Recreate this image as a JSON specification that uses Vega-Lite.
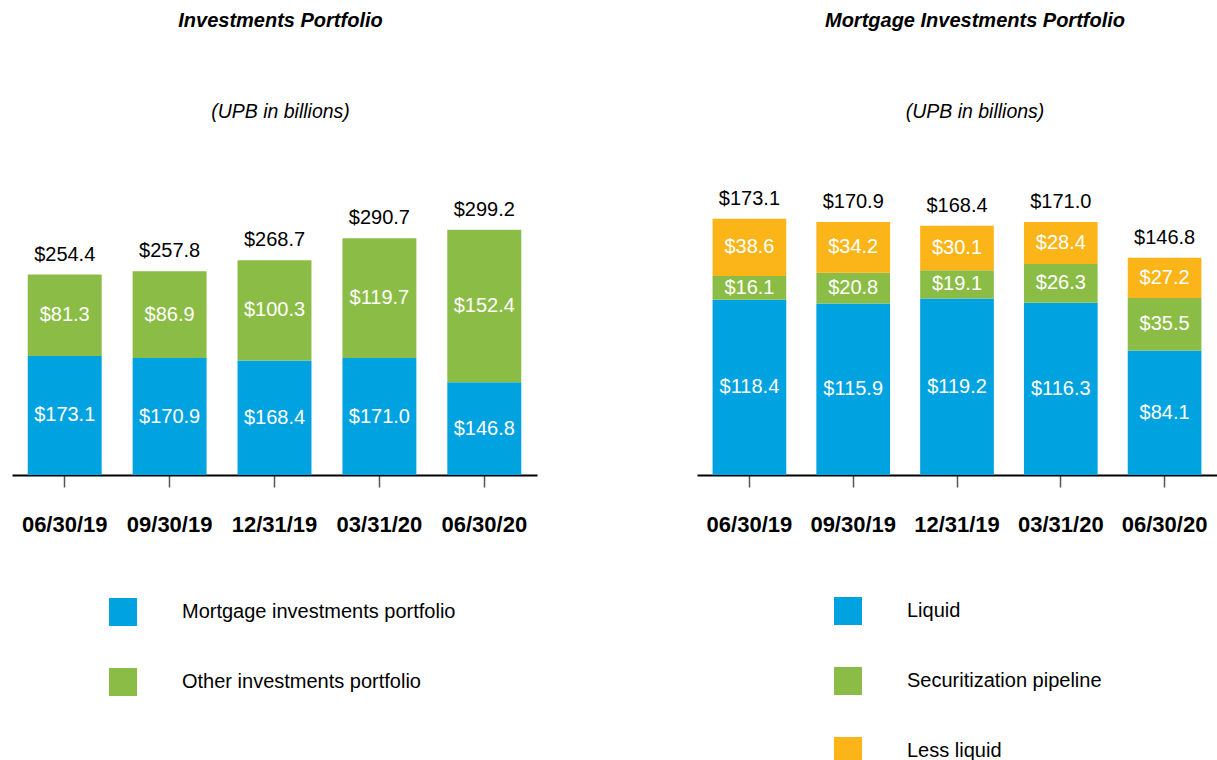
{
  "$schema": "https://vega.github.io/schema/vega-lite/v6.json",
  "padding": {"left": 12, "top": 10, "right": 0, "bottom": 0},
  "autosize": {"type": "pad"},
  "spacing": 160,
  "config": {
    "font": "Liberation Sans",
    "view": {"stroke": null},
    "title": {
      "font": "Liberation Sans", "fontSize": 20, "fontStyle": "italic", "fontWeight": "bold", "color": "#000000",
      "subtitleFont": "Liberation Sans", "subtitleFontSize": 19.5, "subtitleFontStyle": "italic", "subtitleFontWeight": "normal",
      "subtitleColor": "#000000", "subtitlePadding": 72, "offset": 54, "anchor": "middle"
    },
    "axisX": {
      "title": null, "labelAngle": 0, "labelFont": "Liberation Sans", "labelFontSize": 22, "labelFontWeight": "bold",
      "labelColor": "#000000", "labelPadding": 27, "tickSize": 12, "tickColor": "#555555", "tickWidth": 1.5,
      "domainColor": "#000000", "domainWidth": 2.2, "grid": false
    },
    "legend": {
      "title": null, "orient": "none", "direction": "vertical", "symbolType": "square", "symbolSize": 784,
      "symbolStrokeWidth": 0, "symbolOpacity": 1, "labelFont": "Liberation Sans", "labelFontSize": 20,
      "labelColor": "#000000", "labelOffset": 45, "rowPadding": 42, "labelLimit": 500
    },
    "text": {"font": "Liberation Sans", "fontSize": 20}
  },
  "hconcat": [
    {
      "width": 525,
      "height": 300,
      "title": {"text": "Investments Portfolio", "subtitle": "(UPB in billions)", "dx": 6},
      "data": {"values": [
        {"date": "06/30/19", "series": "Mortgage investments portfolio", "rank": 1, "value": 173.1},
        {"date": "06/30/19", "series": "Other investments portfolio", "rank": 2, "value": 81.3},
        {"date": "09/30/19", "series": "Mortgage investments portfolio", "rank": 1, "value": 170.9},
        {"date": "09/30/19", "series": "Other investments portfolio", "rank": 2, "value": 86.9},
        {"date": "12/31/19", "series": "Mortgage investments portfolio", "rank": 1, "value": 168.4},
        {"date": "12/31/19", "series": "Other investments portfolio", "rank": 2, "value": 100.3},
        {"date": "03/31/20", "series": "Mortgage investments portfolio", "rank": 1, "value": 171.0},
        {"date": "03/31/20", "series": "Other investments portfolio", "rank": 2, "value": 119.7},
        {"date": "06/30/20", "series": "Mortgage investments portfolio", "rank": 1, "value": 146.8},
        {"date": "06/30/20", "series": "Other investments portfolio", "rank": 2, "value": 152.4}
      ]},
      "transform": [
        {"stack": "value", "groupby": ["date"], "sort": [{"field": "rank", "order": "ascending"}], "as": ["v0", "v1"]}
      ],
      "layer": [
        {
          "mark": {"type": "bar", "clip": true},
          "encoding": {
            "x": {"field": "date", "type": "ordinal", "scale": {"domain": ["06/30/19", "09/30/19", "12/31/19", "03/31/20", "06/30/20"], "paddingInner": 0.295, "paddingOuter": 0.15}},
            "y": {"field": "v1", "type": "quantitative", "scale": {"domain": [54, 354]}, "axis": null},
            "y2": {"field": "v0"},
            "color": {
              "field": "series", "type": "nominal",
              "scale": {"domain": ["Mortgage investments portfolio", "Other investments portfolio"], "range": ["#00A3E0", "#8BBD46"]},
              "legend": {"legendX": 97, "legendY": 423}
            }
          }
        },
        {
          "transform": [{"filter": {"field": "series", "equal": "Mortgage investments portfolio"}}],
          "mark": {"type": "text", "color": "#ffffff", "baseline": "middle"},
          "encoding": {
            "x": {"field": "date", "type": "ordinal"},
            "y": {"field": "v1", "type": "quantitative", "scale": {"domain": [54, 654]}, "axis": null},
            "text": {"field": "value", "type": "quantitative", "format": "$.1f"}
          }
        },
        {
          "transform": [
            {"filter": {"field": "series", "equal": "Other investments portfolio"}},
            {"fold": ["v0", "v1"], "as": ["k", "pos"]}
          ],
          "mark": {"type": "text", "color": "#ffffff", "baseline": "middle"},
          "encoding": {
            "x": {"field": "date", "type": "ordinal"},
            "y": {"aggregate": "mean", "field": "pos", "type": "quantitative", "scale": {"domain": [54, 354]}, "axis": null},
            "text": {"aggregate": "max", "field": "value", "type": "quantitative", "format": "$.1f"}
          }
        },
        {
          "mark": {"type": "text", "color": "#000000", "baseline": "alphabetic", "dy": -14},
          "encoding": {
            "x": {"field": "date", "type": "ordinal"},
            "y": {"aggregate": "sum", "field": "value", "type": "quantitative", "scale": {"domain": [54, 354]}, "axis": null},
            "text": {"aggregate": "sum", "field": "value", "type": "quantitative", "format": "$.1f"}
          }
        }
      ],
      "resolve": {"scale": {"y": "independent"}}
    },
    {
      "width": 520,
      "height": 300,
      "title": {"text": "Mortgage Investments Portfolio", "subtitle": "(UPB in billions)", "dx": 18},
      "data": {"values": [
        {"date": "06/30/19", "series": "Liquid", "rank": 1, "value": 118.4},
        {"date": "06/30/19", "series": "Securitization pipeline", "rank": 2, "value": 16.1},
        {"date": "06/30/19", "series": "Less liquid", "rank": 3, "value": 38.6},
        {"date": "09/30/19", "series": "Liquid", "rank": 1, "value": 115.9},
        {"date": "09/30/19", "series": "Securitization pipeline", "rank": 2, "value": 20.8},
        {"date": "09/30/19", "series": "Less liquid", "rank": 3, "value": 34.2},
        {"date": "12/31/19", "series": "Liquid", "rank": 1, "value": 119.2},
        {"date": "12/31/19", "series": "Securitization pipeline", "rank": 2, "value": 19.1},
        {"date": "12/31/19", "series": "Less liquid", "rank": 3, "value": 30.1},
        {"date": "03/31/20", "series": "Liquid", "rank": 1, "value": 116.3},
        {"date": "03/31/20", "series": "Securitization pipeline", "rank": 2, "value": 26.3},
        {"date": "03/31/20", "series": "Less liquid", "rank": 3, "value": 28.4},
        {"date": "06/30/20", "series": "Liquid", "rank": 1, "value": 84.1},
        {"date": "06/30/20", "series": "Securitization pipeline", "rank": 2, "value": 35.5},
        {"date": "06/30/20", "series": "Less liquid", "rank": 3, "value": 27.2}
      ]},
      "transform": [
        {"stack": "value", "groupby": ["date"], "sort": [{"field": "rank", "order": "ascending"}], "as": ["v0", "v1"]}
      ],
      "layer": [
        {
          "mark": {"type": "bar"},
          "encoding": {
            "x": {"field": "date", "type": "ordinal", "scale": {"domain": ["06/30/19", "09/30/19", "12/31/19", "03/31/20", "06/30/20"], "paddingInner": 0.29, "paddingOuter": 0.15}},
            "y": {"field": "v1", "type": "quantitative", "scale": {"domain": [0, 202.7]}, "axis": null},
            "y2": {"field": "v0"},
            "color": {
              "field": "series", "type": "nominal",
              "scale": {"domain": ["Liquid", "Securitization pipeline", "Less liquid"], "range": ["#00A3E0", "#8BBD46", "#FCB519"]},
              "legend": {"legendX": 137, "legendY": 422}
            }
          }
        },
        {
          "transform": [{"fold": ["v0", "v1"], "as": ["k", "pos"]}],
          "mark": {"type": "text", "color": "#ffffff", "baseline": "middle"},
          "encoding": {
            "x": {"field": "date", "type": "ordinal"},
            "detail": {"field": "series", "type": "nominal"},
            "y": {"aggregate": "mean", "field": "pos", "type": "quantitative", "scale": {"domain": [0, 202.7]}, "axis": null},
            "text": {"aggregate": "max", "field": "value", "type": "quantitative", "format": "$.1f"}
          }
        },
        {
          "mark": {"type": "text", "color": "#000000", "baseline": "alphabetic", "dy": -14},
          "encoding": {
            "x": {"field": "date", "type": "ordinal"},
            "y": {"aggregate": "sum", "field": "value", "type": "quantitative", "scale": {"domain": [0, 202.7]}, "axis": null},
            "text": {"aggregate": "sum", "field": "value", "type": "quantitative", "format": "$.1f"}
          }
        }
      ]
    }
  ],
  "resolve": {"scale": {"color": "independent", "x": "independent", "y": "independent"}}
}
